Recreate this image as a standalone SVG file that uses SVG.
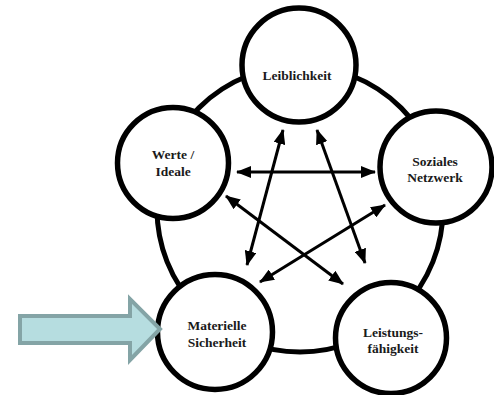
<svg xmlns="http://www.w3.org/2000/svg" width="494" height="395" viewBox="0 0 494 395">
<style>
.node{fill:#fff;stroke:#000;stroke-width:5.5}
.ring{fill:none;stroke:#000;stroke-width:5}
.conn{stroke:#000;stroke-width:3;fill:none;marker-start:url(#ah);marker-end:url(#ah)}
.lbl{font-family:"Liberation Serif","Times New Roman",serif;font-weight:bold;font-size:13.5px;fill:#1a1a1a;text-anchor:middle}
.pointer{fill:#B6DDE0;stroke:#84A4A6;stroke-width:4;stroke-linejoin:miter}
</style>
<defs>
<marker id="ah" markerUnits="userSpaceOnUse" markerWidth="15" markerHeight="12" refX="14" refY="6" orient="auto-start-reverse">
<path d="M0,0 L15,6 L0,12 Z" fill="#000"/>
</marker>
</defs>
<rect width="494" height="395" fill="#fff"/>
<circle class="ring" cx="300" cy="209" r="143"/>
<g id="node-leiblichkeit">
<circle class="node" cx="299" cy="65" r="57"/>
<text class="lbl" x="297" y="80">Leiblichkeit</text>
</g>
<g id="node-werte">
<circle class="node" cx="173" cy="163" r="55.5"/>
<text class="lbl" x="173" y="159">Werte /</text>
<text class="lbl" x="173" y="176">Ideale</text>
</g>
<g id="node-soziales">
<circle class="node" cx="436" cy="167" r="56"/>
<text class="lbl" x="435" y="166">Soziales</text>
<text class="lbl" x="435" y="182">Netzwerk</text>
</g>
<g id="node-materielle">
<circle class="node" cx="215" cy="332" r="57.5"/>
<text class="lbl" x="217" y="330">Materielle</text>
<text class="lbl" x="217" y="347">Sicherheit</text>
</g>
<g id="node-leistung">
<circle class="node" cx="391" cy="338" r="55.5"/>
<text class="lbl" x="393" y="337">Leistungs-</text>
<text class="lbl" x="393" y="353">fähigkeit</text>
</g>
<g id="connectors">
<line class="conn" x1="237" y1="172" x2="375" y2="172"/>
<line class="conn" x1="283" y1="130" x2="247" y2="265"/>
<line class="conn" x1="317" y1="130" x2="365" y2="263"/>
<line class="conn" x1="226" y1="196" x2="343" y2="284"/>
<line class="conn" x1="385" y1="205" x2="260" y2="282"/>
</g>
<g id="pointer">
<polygon class="pointer" points="20,316 130,316 130,299 160,329 130,360 130,343 20,343"/>
</g>
</svg>
